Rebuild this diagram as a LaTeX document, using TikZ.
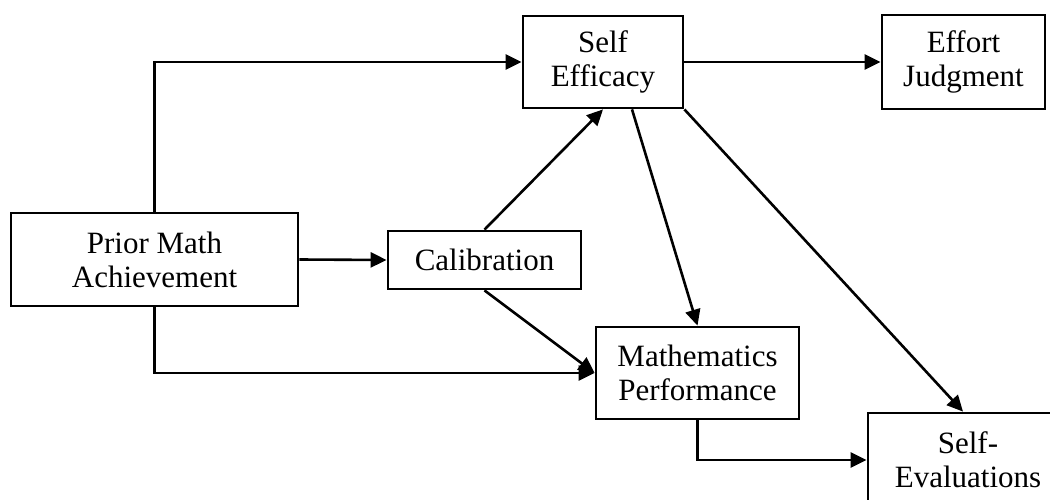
\documentclass[tikz,border=0pt]{standalone}
\usepackage{fontspec}
\setmainfont{Liberation Serif}
\usetikzlibrary{arrows.meta}
\begin{document}
\begin{tikzpicture}[x=1pt,y=-1pt,
  box/.style={draw, line width=2.8pt, inner sep=0pt, align=center,
    font=\fontsize{31pt}{34pt}\selectfont},
  arr/.style={line width=2.6pt, -{Triangle[length=16pt,width=15pt]}}]
\useasboundingbox (0,0) rectangle (1050,500);
\clip (0,0) rectangle (1050,500);
% boxes
\node[box, minimum width=160pt, minimum height=92pt] (se)  at (603,62)     {Self\\Efficacy};
\node[box, minimum width=163pt, minimum height=94pt] (ej)  at (963.5,62)   {Effort\\Judgment};
\node[box, minimum width=287pt, minimum height=93pt] (pma) at (154.5,259.5) {Prior Math\\Achievement};
\node[box, minimum width=193pt, minimum height=58pt] (cal) at (484.5,260)  {Calibration};
\node[box, minimum width=203pt, minimum height=92pt] (mp)  at (697.5,373)  {Mathematics\\Performance};
\node[box, minimum width=200pt, minimum height=94pt] (sev) at (968,460)    {Self-\\Evaluations};
% paths
\draw[arr] (pma.north) |- (se.west);
\draw[arr] (pma.east) -- (cal.west);
\draw[arr] (pma.south) |- (mp.west);
\draw[arr] (cal.north) -- (se.south);
\draw[arr] (cal.south) -- (mp.west);
\draw[arr] ([xshift=29pt]se.south) -- (mp.north);
\draw[arr] (se.south east) -- ([xshift=-5pt]sev.north);
\draw[arr] (se.east) -- (ej.west);
\draw[arr] (mp.south) |- (sev.west);
\end{tikzpicture}
\end{document}
